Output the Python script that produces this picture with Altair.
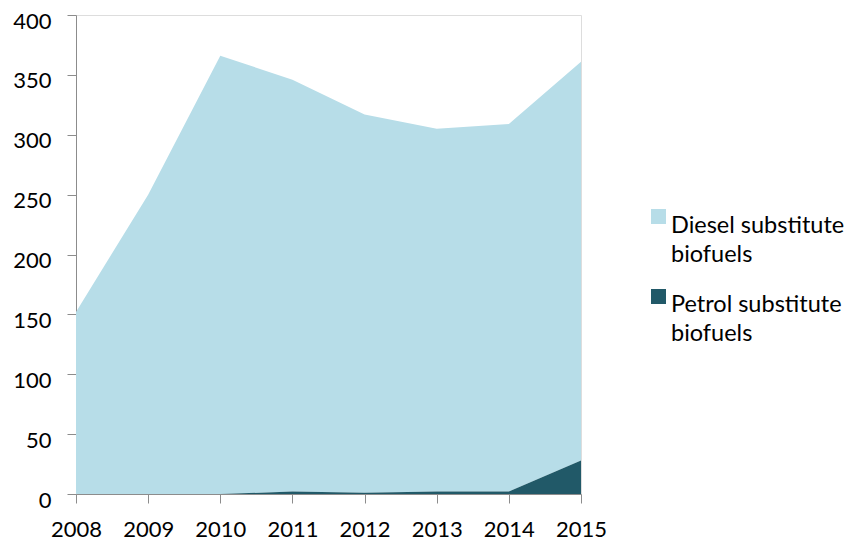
import altair as alt
import pandas as pd

years = [2008, 2009, 2010, 2011, 2012, 2013, 2014, 2015]
total_top = [152, 250, 366, 346, 317, 305, 309, 361]
petrol = [0, 0, 0, 2, 1, 2, 2, 28]
diesel = [t - p for t, p in zip(total_top, petrol)]
series = ["Diesel substitute|biofuels", "Petrol substitute|biofuels"]
colors = ["#b7dde8", "#215968"]
y_ticks = [0, 50, 100, 150, 200, 250, 300, 350, 400]

rows = []
for i, y in enumerate(years):
    rows.append({"year": y, "series": series[0], "value": diesel[i], "order": 2})
    rows.append({"year": y, "series": series[1], "value": petrol[i], "order": 1})
df = pd.DataFrame(rows)

legend_df = pd.DataFrame({"series": series, "idx": list(range(len(series)))})

FONT = "Lato"
color_scale = alt.Scale(domain=series, range=colors)

area = alt.Chart(df).mark_area(opacity=1).encode(
    x=alt.X("year:Q", scale=alt.Scale(domain=[2008, 2015], nice=False, zero=False),
            axis=alt.Axis(values=years, format="d", title=None, grid=False,
                          labelFontSize=22, labelFont=FONT, labelColor="#000000",
                          domainColor="#8c8c8c", tickColor="#8c8c8c", tickSize=9,
                          labelPadding=16, labelFlush=False)),
    y=alt.Y("value:Q", stack="zero", scale=alt.Scale(domain=[0, 400], nice=False),
            axis=alt.Axis(values=y_ticks, title=None,
                          grid=False, labelFontSize=22, labelFont=FONT, labelColor="#000000",
                          domainColor="#8c8c8c", tickColor="#8c8c8c", tickSize=9,
                          labelPadding=16, labelOffset=6)),
    color=alt.Color("series:N", scale=color_scale, legend=None),
    order=alt.Order("order:Q"),
)

leg_sym = alt.Chart(legend_df).mark_square(size=225, opacity=1).transform_calculate(
    ypos="201.5 + datum.idx * 80"
).encode(
    x=alt.value(582.5),
    y=alt.Y("ypos:Q", scale=None, axis=None),
    color=alt.Color("series:N", scale=color_scale, legend=None),
)

leg_txt = alt.Chart(legend_df).mark_text(
    align="left", baseline="alphabetic", fontSize=23.5, font=FONT, color="#000000",
    lineBreak="|", lineHeight=29
).transform_calculate(
    ypos="218 + datum.idx * 79"
).encode(
    x=alt.value(595),
    y=alt.Y("ypos:Q", scale=None, axis=None),
    text="series:N",
)

chart = alt.layer(area, leg_sym, leg_txt).resolve_scale(y="independent").properties(
    width=505, height=479,
    autosize=alt.AutoSizeParams(type="none"),
    padding={"left": 68, "top": 7, "right": 267, "bottom": 46},
).configure_view(stroke=None).configure(background="#ffffff")

chart.save("out.html", embed_options={"renderer": "svg", "actions": False})
